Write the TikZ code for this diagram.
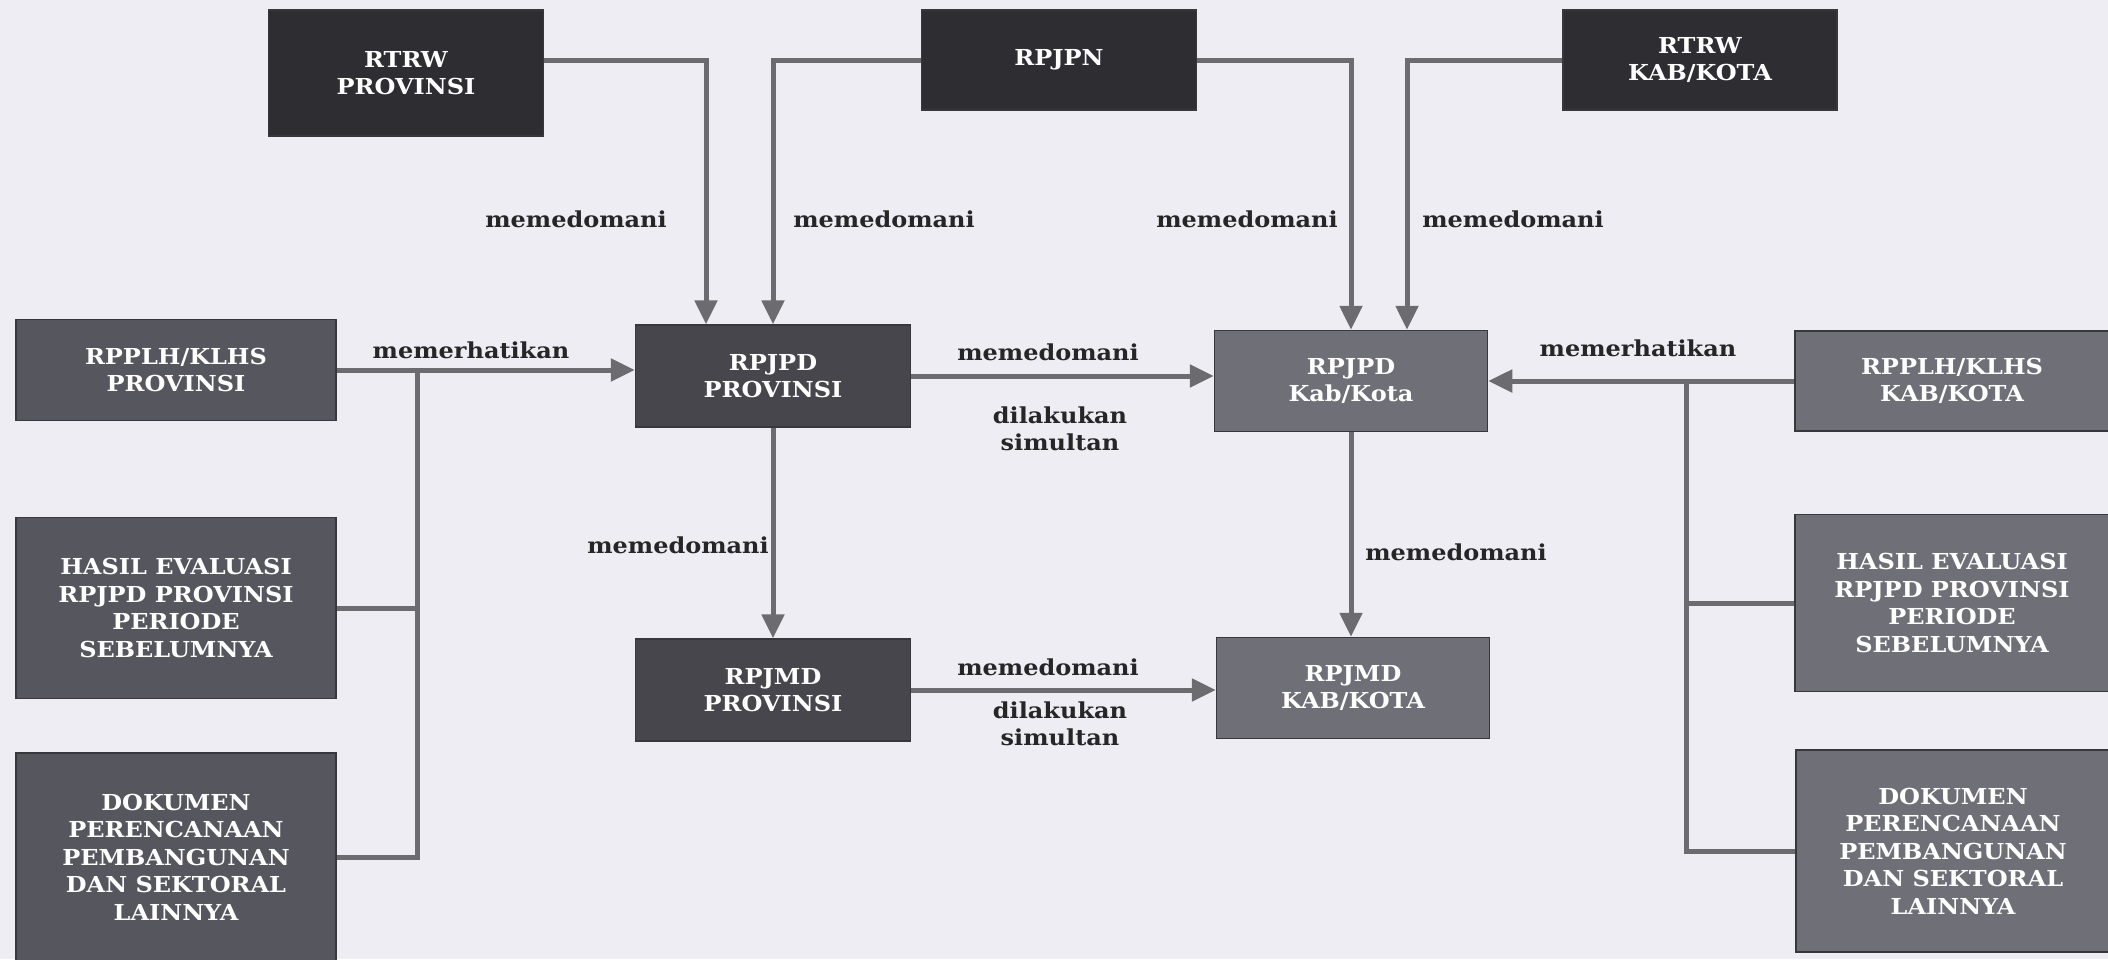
\documentclass[tikz,border=0pt]{standalone}
\usepackage{fontspec}
\setmainfont{DejaVu Serif}[FakeStretch=1.09]
\usetikzlibrary{arrows.meta}

\definecolor{paper}{HTML}{EDEDF3}
\definecolor{topbox}{HTML}{2D2D32}
\definecolor{provbox}{HTML}{46464C}
\definecolor{sidebox}{HTML}{56565E}
\definecolor{kabbox}{HTML}{6F6F78}
\definecolor{rim}{HTML}{38383C}
\definecolor{wire}{HTML}{6B6B70}

\tikzset{
  box/.style={rectangle,draw=rim,line width=1.5pt,text=white,align=center,inner sep=0pt},
  conn/.style={draw=wire,line width=5pt},
  arr/.style={conn,-{Triangle[length=24pt,width=22pt]}},
  lbl/.style={text=black!85,align=center,inner sep=0pt}
}

\begin{document}
\begin{tikzpicture}[x=1pt,y=-1pt,font=\bfseries\fontsize{22}{27.5}\selectfont]
            \clip (0,0) rectangle (2108,959);
            \fill[paper] (0,0) rectangle (2108,959);

            % top row
            \begin{scope}[every node/.style={box,fill=topbox}]
                \node[minimum width=275pt,minimum height=126pt] (RTRWP) at (406,73) {RTRW\\PROVINSI};
                \node[minimum width=275pt,minimum height=100pt] (RPJPN) at (1059,60) {RPJPN};
                \node[minimum width=274pt,minimum height=100pt] (RTRWK) at (1700,60) {RTRW\\KAB/KOTA};
            \end{scope}

            % province column
            \begin{scope}[every node/.style={box,fill=provbox,minimum width=275pt,minimum height=102pt}]
                \node (RPJPDP) at (773,376) {RPJPD\\PROVINSI};
                \node (RPJMDP) at (773,690) {RPJMD\\PROVINSI};
            \end{scope}

            % kab/kota column
            \begin{scope}[every node/.style={box,fill=kabbox,minimum width=273pt,minimum height=101pt}]
                \node (RPJPDK) at (1351,381) {RPJPD\\Kab/Kota};
                \node (RPJMDK) at (1353,688) {RPJMD\\KAB/KOTA};
            \end{scope}

            % left inputs
            \begin{scope}[every node/.style={box,fill=sidebox,minimum width=320pt}]
                \node[minimum height=101pt] (LHSP) at (176,370) {RPPLH/KLHS\\PROVINSI};
                \node[minimum height=181pt] (EVP) at (176,608) {HASIL EVALUASI\\RPJPD PROVINSI\\PERIODE\\SEBELUMNYA};
                \node[minimum height=208pt] (DOKP) at (176,857) {DOKUMEN\\PERENCANAAN\\PEMBANGUNAN\\DAN SEKTORAL\\LAINNYA};
            \end{scope}

            % right inputs
            \begin{scope}[every node/.style={box,fill=kabbox,minimum width=314pt}]
                \node[minimum height=100pt] (LHSK) at (1952,381) {RPPLH/KLHS\\KAB/KOTA};
                \node[minimum height=177pt] (EVK) at (1952,603) {HASIL EVALUASI\\RPJPD PROVINSI\\PERIODE\\SEBELUMNYA};
                \node[minimum height=202pt] (DOKK) at (1953,851) {DOKUMEN\\PERENCANAAN\\PEMBANGUNAN\\DAN SEKTORAL\\LAINNYA};
            \end{scope}

            \coordinate (JP) at (417,370);
            \coordinate (JK) at (1686,381);

            % connectors
            \begin{scope}
                \draw[arr] (RTRWP.east |- RPJPN) -| ([xshift=-67pt]RPJPDP.north);
                \draw[arr] (RPJPN.west) -| (RPJPDP.north);
                \draw[arr] (RPJPN.east) -| (RPJPDK.north);
                \draw[arr] (RTRWK.west) -| ([xshift=56pt]RPJPDK.north);
                \draw[arr] (LHSP.east) -- (LHSP.east -| RPJPDP.west);
                \draw[conn] (JP) |- (DOKP.east);
                \draw[conn] (EVP.east) -- (EVP.east -| JP);
                \draw[arr] (RPJPDP.south) -- (RPJMDP.north);
                \draw[arr] (RPJPDP.east) -- (RPJPDP.east -| RPJPDK.west);
                \draw[arr] (RPJMDP.east) -- (RPJMDP.east -| RPJMDK.west);
                \draw[arr] (RPJPDK.south) -- (RPJPDK.south |- RPJMDK.north);
                \draw[arr] (LHSK.west) -- (LHSK.west -| RPJPDK.east);
                \draw[conn] (JK) |- (DOKK.west);
                \draw[conn] (EVK.west) -- (EVK.west -| JK);
            \end{scope}

            % labels
            \begin{scope}[every node/.style={lbl}]
                \node (m1) at (576,219) {memedomani};
                \node (m2) at (884,219) {memedomani};
                \node (m3) at (1247,219) {memedomani};
                \node (m4) at (1513,219) {memedomani};
                \node (h1) at (471,350) {memerhatikan};
                \node (h2) at (1638,348) {memerhatikan};
                \node (m5) at (1048,352) {memedomani};
                \node (s1) at (1060,429) {dilakukan\\simultan};
                \node (m6) at (678,545) {memedomani};
                \node (m7) at (1456,552) {memedomani};
                \node (m8) at (1048,667) {memedomani};
                \node (s2) at (1060,724) {dilakukan\\simultan};
            \end{scope}
\end{tikzpicture}
\end{document}
